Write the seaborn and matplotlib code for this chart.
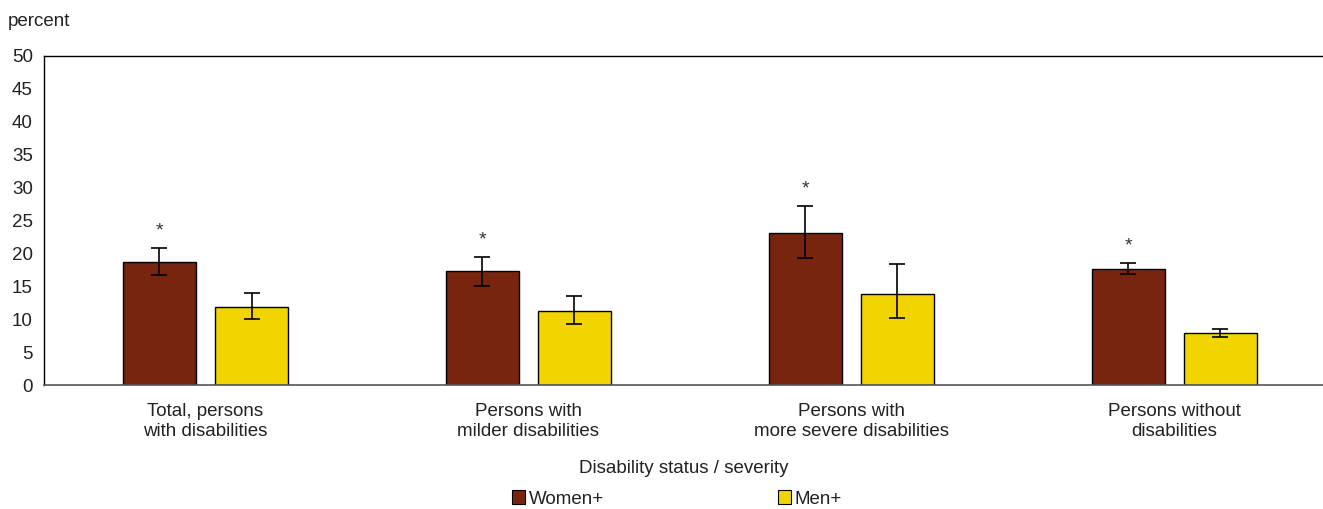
import matplotlib
matplotlib.use("Agg")
import matplotlib.pyplot as plt
import seaborn as sns
import pandas as pd
import numpy as np

categories = ["Total, persons\nwith disabilities",
              "Persons with\nmilder disabilities",
              "Persons with\nmore severe disabilities",
              "Persons without\ndisabilities"]
groups = ["Women+", "Men+"]
women = [18.7, 17.3, 23.1, 17.7]
men = [11.9, 11.3, 13.8, 7.9]
women_lo = [16.7, 15.0, 19.3, 16.9]
women_hi = [20.8, 19.5, 27.2, 18.5]
men_lo = [10.0, 9.3, 10.2, 7.3]
men_hi = [14.0, 13.6, 18.4, 8.5]
significant = [True, True, True, True]

sns.set_theme(style="white")
plt.rcParams["font.family"] = ["Liberation Sans", "DejaVu Sans"]

df = pd.DataFrame({
    "category": categories * 2,
    "group": [groups[0]] * 4 + [groups[1]] * 4,
    "value": women + men,
})

colors = {"Women+": "#782510", "Men+": "#f2d500"}
txt = "#222222"
fs = 13.5

fig = plt.figure(figsize=(13.23, 5.09), dpi=100)
ax = fig.add_axes([44 / 1323, 1 - 385 / 509, 1 - 44 / 1323, (385 - 56) / 509])

sns.barplot(data=df, x="category", y="value", hue="group", order=categories,
            hue_order=groups, palette=colors, saturation=1, width=0.57,
            gap=0.2, errorbar=None, edgecolor="black", linewidth=1.0, ax=ax,
            legend=True)

# Confidence intervals and significance markers
for gi, (vals, lo, hi) in enumerate([(women, women_lo, women_hi),
                                      (men, men_lo, men_hi)]):
    container = ax.containers[gi]
    for i, bar in enumerate(container):
        xc = bar.get_x() + bar.get_width() / 2
        ax.errorbar(xc, vals[i], yerr=[[vals[i] - lo[i]], [hi[i] - vals[i]]],
                    fmt="none", ecolor="black", elinewidth=1.2, capsize=6,
                    capthick=1.2, zorder=5)
        if gi == 0 and significant[i]:
            ax.text(xc, hi[i] + 2.6, "*", ha="center", va="center",
                    fontsize=14, color="#333333")

ax.set_ylim(0, 50)
ax.set_xlim(-0.5, 3.46)
ax.set_yticks(range(0, 51, 5))
ax.tick_params(axis="y", direction="in", length=4, width=1, color="black",
               labelsize=fs, pad=8, labelcolor=txt)
ax.tick_params(axis="x", length=0, labelsize=fs, pad=13, labelcolor=txt)
ax.set_xlabel("Disability status / severity", fontsize=fs, color=txt,
              labelpad=15)
ax.set_ylabel("")

for side in ["left", "top"]:
    ax.spines[side].set_visible(True)
    ax.spines[side].set_color("black")
    ax.spines[side].set_linewidth(1.0)
ax.spines["right"].set_visible(False)
ax.spines["bottom"].set_color("#555555")
ax.spines["bottom"].set_linewidth(1.2)

fig.text(8 / 1323, 1 - 21 / 509, "percent", fontsize=fs, color=txt,
         va="center", ha="left")

leg = ax.legend(loc="center", bbox_to_anchor=(633 / 1279, -114 / 329), ncol=2,
                frameon=False, fontsize=fs, handlelength=0.7, handleheight=0.7,
                handletextpad=0.2, columnspacing=9.3, labelcolor=txt)
for h in leg.legend_handles:
    h.set_edgecolor("black")
    h.set_linewidth(0.8)

fig.savefig("out.png", dpi=100)
